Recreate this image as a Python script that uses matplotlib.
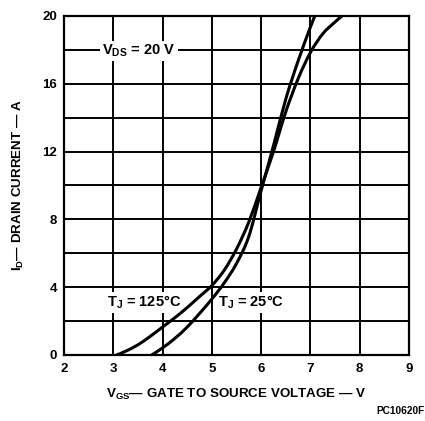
import matplotlib
matplotlib.use("Agg")
import matplotlib.pyplot as plt
import numpy as np
from matplotlib.path import Path
from matplotlib.patches import PathPatch

plt.rcParams['font.family'] = ['Liberation Sans', 'DejaVu Sans']
plt.rcParams['font.weight'] = 'bold'
plt.rcParams['mathtext.fontset'] = 'custom'
plt.rcParams['mathtext.rm'] = 'Liberation Sans:bold'
plt.rcParams['mathtext.it'] = 'Liberation Sans:bold'
plt.rcParams['mathtext.bf'] = 'Liberation Sans:bold'

# Data (V_GS in volts, I_D in amperes)
vgs_125 = [3.07, 3.25, 3.5, 3.75, 4.0, 4.25, 4.5, 4.75, 5.0, 5.25, 5.5, 5.75, 6.0, 6.25, 6.5, 6.75, 7.0, 7.25, 7.5, 7.64]
id_125 = [0.0, 0.22, 0.6, 1.1, 1.65, 2.2, 2.8, 3.45, 4.1, 5.0, 6.25, 7.85, 9.9, 12.0, 14.35, 16.3, 17.85, 18.95, 19.65, 20.0]
vgs_25 = [3.78, 4.0, 4.25, 4.5, 4.75, 5.0, 5.25, 5.5, 5.75, 6.0, 6.25, 6.5, 6.75, 7.0, 7.09]
id_25 = [0.0, 0.42, 0.98, 1.65, 2.45, 3.3, 4.25, 5.4, 7.0, 9.7, 12.35, 15.1, 17.35, 19.35, 20.0]

x_ticks = [2, 3, 4, 5, 6, 7, 8, 9]
y_grid = [0, 2, 4, 6, 8, 10, 12, 14, 16, 18, 20]
y_labels = ['0', '', '4', '', '8', '', '12', '', '16', '', '20']


def smooth_path(xs, ys):
    """Catmull-Rom curve through the read points, drawn as cubic Beziers."""
    p = np.column_stack([xs, ys]).astype(float)
    verts = [p[0]]
    codes = [Path.MOVETO]
    n = len(p)
    for i in range(n - 1):
        p0 = p[i - 1] if i > 0 else p[i]
        p1 = p[i]
        p2 = p[i + 1]
        p3 = p[i + 2] if i + 2 < n else p[i + 1]
        c1 = p1 + (p2 - p0) / 6.0
        c2 = p2 - (p3 - p1) / 6.0
        verts += [c1, c2, p2]
        codes += [Path.CURVE4] * 3
    return Path(verts, codes)


fig = plt.figure(figsize=(4.25, 4.21), dpi=100)
ax = fig.add_axes([0.1506, 0.1568, 0.8118, 0.8052])
ax.set_xlim(2, 9)
ax.set_ylim(0, 20)
ax.set_xticks(x_ticks)
ax.set_yticks(y_grid)
ax.set_yticklabels(y_labels)
ax.tick_params(which='both', length=0, labelsize=9.5)
ax.tick_params(axis='y', pad=5)
ax.tick_params(axis='x', pad=6)
for lbl in ax.get_xticklabels() + ax.get_yticklabels():
    lbl.set_fontweight('bold')
ax.grid(True, color='black', linewidth=1.4)
ax.set_axisbelow(True)
for s in ax.spines.values():
    s.set_linewidth(1.6)

for xs, ys in [(vgs_125, id_125), (vgs_25, id_25)]:
    patch = PathPatch(smooth_path(xs, ys), facecolor='none', edgecolor='black',
                      linewidth=2.2, capstyle='round', zorder=5)
    ax.add_patch(patch)

bbox = dict(facecolor='white', edgecolor='none', pad=1.5)
ax.text(3.52, 17.95, r"V$_{\rm DS}$ = 20 V", ha='center', va='center', fontsize=10.5,
        fontweight='bold', bbox=bbox, zorder=4)
ax.text(3.62, 3.1, r"T$_{\rm J}$ = 125°C", ha='center', va='center', fontsize=10.5,
        fontweight='bold', bbox=bbox, zorder=4)
ax.text(5.8, 3.1, r"T$_{\rm J}$ = 25°C", ha='center', va='center', fontsize=10.5,
        fontweight='bold', bbox=bbox, zorder=4)

ax.set_xlabel(r"V$_{\rm GS}$— GATE TO SOURCE VOLTAGE — V", fontsize=9.6, fontweight='bold', labelpad=8)
ax.set_ylabel(r"I$_{\rm D}$— DRAIN CURRENT — A", fontsize=9.6, fontweight='bold', labelpad=12)

fig.text(0.998, 0.012, "PC10620F", ha='right', va='bottom', fontsize=7.3, fontweight='bold')

fig.savefig("out.png", dpi=100)
